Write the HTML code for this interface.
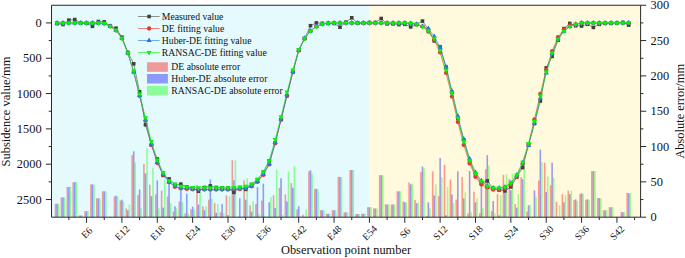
<!DOCTYPE html><html><head><meta charset="utf-8"><title>chart</title><style>html,body{margin:0;padding:0;background:#fff}</style></head><body><svg width="685" height="258" viewBox="0 0 685 258" style="display:block;font-family:'Liberation Serif',serif">
<rect width="685" height="258" fill="#fff"/>
<rect x="51.5" y="5.25" width="317.7" height="211.95" fill="#e5fafd"/>
<rect x="369.2" y="5.25" width="270.90000000000003" height="211.95" fill="#fff9de"/>
<rect x="54.75" y="203.70" width="1.57" height="13.50" fill="rgba(255,0,0,0.39)"/>
<rect x="56.32" y="203.70" width="1.57" height="13.50" fill="rgba(0,0,255,0.39)"/>
<rect x="57.89" y="204.10" width="1.57" height="13.10" fill="rgba(0,255,0,0.39)"/>
<rect x="60.64" y="197.40" width="1.57" height="19.80" fill="rgba(255,0,0,0.39)"/>
<rect x="62.21" y="197.40" width="1.57" height="19.80" fill="rgba(0,0,255,0.39)"/>
<rect x="63.78" y="197.40" width="1.57" height="19.80" fill="rgba(0,255,0,0.39)"/>
<rect x="66.53" y="186.90" width="1.57" height="30.30" fill="rgba(255,0,0,0.39)"/>
<rect x="68.10" y="186.90" width="1.57" height="30.30" fill="rgba(0,0,255,0.39)"/>
<rect x="69.67" y="186.90" width="1.57" height="30.30" fill="rgba(0,255,0,0.39)"/>
<rect x="72.42" y="182.20" width="1.57" height="35.00" fill="rgba(255,0,0,0.39)"/>
<rect x="73.99" y="182.20" width="1.57" height="35.00" fill="rgba(0,0,255,0.39)"/>
<rect x="75.56" y="182.20" width="1.57" height="35.00" fill="rgba(0,255,0,0.39)"/>
<rect x="78.32" y="215.45" width="1.57" height="1.75" fill="rgba(255,0,0,0.39)"/>
<rect x="79.89" y="215.45" width="1.57" height="1.75" fill="rgba(0,0,255,0.39)"/>
<rect x="81.46" y="215.45" width="1.57" height="1.75" fill="rgba(0,255,0,0.39)"/>
<rect x="84.21" y="211.10" width="1.57" height="6.10" fill="rgba(255,0,0,0.39)"/>
<rect x="85.78" y="211.10" width="1.57" height="6.10" fill="rgba(0,0,255,0.39)"/>
<rect x="87.35" y="211.10" width="1.57" height="6.10" fill="rgba(0,255,0,0.39)"/>
<rect x="90.10" y="184.30" width="1.57" height="32.90" fill="rgba(255,0,0,0.39)"/>
<rect x="91.67" y="184.30" width="1.57" height="32.90" fill="rgba(0,0,255,0.39)"/>
<rect x="93.24" y="184.80" width="1.57" height="32.40" fill="rgba(0,255,0,0.39)"/>
<rect x="96.00" y="198.30" width="1.57" height="18.90" fill="rgba(255,0,0,0.39)"/>
<rect x="97.57" y="198.30" width="1.57" height="18.90" fill="rgba(0,0,255,0.39)"/>
<rect x="99.14" y="198.30" width="1.57" height="18.90" fill="rgba(0,255,0,0.39)"/>
<rect x="101.89" y="191.30" width="1.57" height="25.90" fill="rgba(255,0,0,0.39)"/>
<rect x="103.46" y="191.30" width="1.57" height="25.90" fill="rgba(0,0,255,0.39)"/>
<rect x="105.03" y="191.30" width="1.57" height="25.90" fill="rgba(0,255,0,0.39)"/>
<rect x="107.78" y="216.90" width="1.57" height="0.30" fill="rgba(255,0,0,0.39)"/>
<rect x="109.35" y="216.90" width="1.57" height="0.30" fill="rgba(0,0,255,0.39)"/>
<rect x="110.92" y="216.90" width="1.57" height="0.30" fill="rgba(0,255,0,0.39)"/>
<rect x="113.67" y="196.50" width="1.57" height="20.70" fill="rgba(255,0,0,0.39)"/>
<rect x="115.24" y="195.70" width="1.57" height="21.50" fill="rgba(0,0,255,0.39)"/>
<rect x="116.81" y="196.50" width="1.57" height="20.70" fill="rgba(0,255,0,0.39)"/>
<rect x="119.57" y="200.60" width="1.57" height="16.60" fill="rgba(255,0,0,0.39)"/>
<rect x="121.14" y="199.70" width="1.57" height="17.50" fill="rgba(0,0,255,0.39)"/>
<rect x="122.71" y="201.80" width="1.57" height="15.40" fill="rgba(0,255,0,0.39)"/>
<rect x="125.46" y="208.40" width="1.57" height="8.80" fill="rgba(255,0,0,0.39)"/>
<rect x="127.03" y="210.20" width="1.57" height="7.00" fill="rgba(0,0,255,0.39)"/>
<rect x="128.60" y="204.60" width="1.57" height="12.60" fill="rgba(0,255,0,0.39)"/>
<rect x="131.35" y="155.30" width="1.57" height="61.90" fill="rgba(255,0,0,0.39)"/>
<rect x="132.92" y="151.30" width="1.57" height="65.90" fill="rgba(0,0,255,0.39)"/>
<rect x="134.49" y="162.30" width="1.57" height="54.90" fill="rgba(0,255,0,0.39)"/>
<rect x="137.25" y="195.30" width="1.57" height="21.90" fill="rgba(255,0,0,0.39)"/>
<rect x="138.82" y="189.50" width="1.57" height="27.70" fill="rgba(0,0,255,0.39)"/>
<rect x="140.39" y="208.40" width="1.57" height="8.80" fill="rgba(0,255,0,0.39)"/>
<rect x="143.14" y="164.10" width="1.57" height="53.10" fill="rgba(255,0,0,0.39)"/>
<rect x="144.71" y="173.40" width="1.57" height="43.80" fill="rgba(0,0,255,0.39)"/>
<rect x="146.28" y="148.30" width="1.57" height="68.90" fill="rgba(0,255,0,0.39)"/>
<rect x="149.03" y="184.80" width="1.57" height="32.40" fill="rgba(255,0,0,0.39)"/>
<rect x="150.60" y="196.20" width="1.57" height="21.00" fill="rgba(0,0,255,0.39)"/>
<rect x="152.17" y="167.60" width="1.57" height="49.60" fill="rgba(0,255,0,0.39)"/>
<rect x="154.93" y="194.40" width="1.57" height="22.80" fill="rgba(255,0,0,0.39)"/>
<rect x="156.50" y="180.40" width="1.57" height="36.80" fill="rgba(0,0,255,0.39)"/>
<rect x="158.07" y="208.40" width="1.57" height="8.80" fill="rgba(0,255,0,0.39)"/>
<rect x="160.82" y="190.60" width="1.57" height="26.60" fill="rgba(255,0,0,0.39)"/>
<rect x="162.39" y="207.60" width="1.57" height="9.60" fill="rgba(0,0,255,0.39)"/>
<rect x="163.96" y="179.50" width="1.57" height="37.70" fill="rgba(0,255,0,0.39)"/>
<rect x="166.71" y="196.50" width="1.57" height="20.70" fill="rgba(255,0,0,0.39)"/>
<rect x="168.28" y="183.20" width="1.57" height="34.00" fill="rgba(0,0,255,0.39)"/>
<rect x="169.85" y="203.20" width="1.57" height="14.00" fill="rgba(0,255,0,0.39)"/>
<rect x="172.61" y="211.60" width="1.57" height="5.60" fill="rgba(255,0,0,0.39)"/>
<rect x="174.18" y="206.30" width="1.57" height="10.90" fill="rgba(0,0,255,0.39)"/>
<rect x="175.75" y="208.40" width="1.57" height="8.80" fill="rgba(0,255,0,0.39)"/>
<rect x="178.50" y="201.40" width="1.57" height="15.80" fill="rgba(255,0,0,0.39)"/>
<rect x="180.07" y="182.20" width="1.57" height="35.00" fill="rgba(0,0,255,0.39)"/>
<rect x="181.64" y="202.30" width="1.57" height="14.90" fill="rgba(0,255,0,0.39)"/>
<rect x="184.39" y="213.30" width="1.57" height="3.90" fill="rgba(255,0,0,0.39)"/>
<rect x="185.96" y="193.60" width="1.57" height="23.60" fill="rgba(0,0,255,0.39)"/>
<rect x="187.53" y="213.30" width="1.57" height="3.90" fill="rgba(0,255,0,0.39)"/>
<rect x="190.28" y="209.30" width="1.57" height="7.90" fill="rgba(255,0,0,0.39)"/>
<rect x="191.85" y="206.70" width="1.57" height="10.50" fill="rgba(0,0,255,0.39)"/>
<rect x="193.42" y="209.30" width="1.57" height="7.90" fill="rgba(0,255,0,0.39)"/>
<rect x="196.18" y="184.80" width="1.57" height="32.40" fill="rgba(255,0,0,0.39)"/>
<rect x="197.75" y="204.60" width="1.57" height="12.60" fill="rgba(0,0,255,0.39)"/>
<rect x="199.32" y="192.70" width="1.57" height="24.50" fill="rgba(0,255,0,0.39)"/>
<rect x="202.07" y="206.30" width="1.57" height="10.90" fill="rgba(255,0,0,0.39)"/>
<rect x="203.64" y="210.20" width="1.57" height="7.00" fill="rgba(0,0,255,0.39)"/>
<rect x="205.21" y="206.30" width="1.57" height="10.90" fill="rgba(0,255,0,0.39)"/>
<rect x="207.96" y="199.70" width="1.57" height="17.50" fill="rgba(255,0,0,0.39)"/>
<rect x="209.53" y="179.50" width="1.57" height="37.70" fill="rgba(0,0,255,0.39)"/>
<rect x="211.10" y="198.80" width="1.57" height="18.40" fill="rgba(0,255,0,0.39)"/>
<rect x="213.86" y="203.20" width="1.57" height="14.00" fill="rgba(255,0,0,0.39)"/>
<rect x="215.43" y="212.80" width="1.57" height="4.40" fill="rgba(0,0,255,0.39)"/>
<rect x="217.00" y="204.10" width="1.57" height="13.10" fill="rgba(0,255,0,0.39)"/>
<rect x="219.75" y="212.30" width="1.57" height="4.90" fill="rgba(255,0,0,0.39)"/>
<rect x="221.32" y="204.10" width="1.57" height="13.10" fill="rgba(0,0,255,0.39)"/>
<rect x="222.89" y="213.30" width="1.57" height="3.90" fill="rgba(0,255,0,0.39)"/>
<rect x="225.64" y="195.30" width="1.57" height="21.90" fill="rgba(255,0,0,0.39)"/>
<rect x="227.21" y="215.10" width="1.57" height="2.10" fill="rgba(0,0,255,0.39)"/>
<rect x="228.78" y="196.20" width="1.57" height="21.00" fill="rgba(0,255,0,0.39)"/>
<rect x="231.53" y="160.30" width="1.57" height="56.90" fill="rgba(255,0,0,0.39)"/>
<rect x="233.10" y="180.20" width="1.57" height="37.00" fill="rgba(0,0,255,0.39)"/>
<rect x="234.67" y="160.30" width="1.57" height="56.90" fill="rgba(0,255,0,0.39)"/>
<rect x="237.43" y="216.90" width="1.57" height="0.30" fill="rgba(255,0,0,0.39)"/>
<rect x="239.00" y="198.30" width="1.57" height="18.90" fill="rgba(0,0,255,0.39)"/>
<rect x="240.57" y="216.90" width="1.57" height="0.30" fill="rgba(0,255,0,0.39)"/>
<rect x="243.32" y="180.40" width="1.57" height="36.80" fill="rgba(255,0,0,0.39)"/>
<rect x="244.89" y="199.70" width="1.57" height="17.50" fill="rgba(0,0,255,0.39)"/>
<rect x="246.46" y="178.30" width="1.57" height="38.90" fill="rgba(0,255,0,0.39)"/>
<rect x="249.21" y="205.30" width="1.57" height="11.90" fill="rgba(255,0,0,0.39)"/>
<rect x="250.78" y="211.60" width="1.57" height="5.60" fill="rgba(0,0,255,0.39)"/>
<rect x="252.35" y="201.40" width="1.57" height="15.80" fill="rgba(0,255,0,0.39)"/>
<rect x="255.11" y="204.10" width="1.57" height="13.10" fill="rgba(255,0,0,0.39)"/>
<rect x="256.68" y="187.10" width="1.57" height="30.10" fill="rgba(0,0,255,0.39)"/>
<rect x="258.25" y="214.00" width="1.57" height="3.20" fill="rgba(0,255,0,0.39)"/>
<rect x="261.00" y="200.60" width="1.57" height="16.60" fill="rgba(255,0,0,0.39)"/>
<rect x="262.57" y="183.60" width="1.57" height="33.60" fill="rgba(0,0,255,0.39)"/>
<rect x="264.14" y="215.80" width="1.57" height="1.40" fill="rgba(0,255,0,0.39)"/>
<rect x="266.89" y="216.90" width="1.57" height="0.30" fill="rgba(255,0,0,0.39)"/>
<rect x="268.46" y="202.30" width="1.57" height="14.90" fill="rgba(0,0,255,0.39)"/>
<rect x="270.03" y="197.10" width="1.57" height="20.10" fill="rgba(0,255,0,0.39)"/>
<rect x="272.79" y="195.30" width="1.57" height="21.90" fill="rgba(255,0,0,0.39)"/>
<rect x="274.36" y="208.10" width="1.57" height="9.10" fill="rgba(0,0,255,0.39)"/>
<rect x="275.93" y="169.60" width="1.57" height="47.60" fill="rgba(0,255,0,0.39)"/>
<rect x="278.68" y="187.80" width="1.57" height="29.40" fill="rgba(255,0,0,0.39)"/>
<rect x="280.25" y="178.20" width="1.57" height="39.00" fill="rgba(0,0,255,0.39)"/>
<rect x="281.82" y="214.60" width="1.57" height="2.60" fill="rgba(0,255,0,0.39)"/>
<rect x="284.57" y="194.40" width="1.57" height="22.80" fill="rgba(255,0,0,0.39)"/>
<rect x="286.14" y="201.40" width="1.57" height="15.80" fill="rgba(0,0,255,0.39)"/>
<rect x="287.71" y="171.40" width="1.57" height="45.80" fill="rgba(0,255,0,0.39)"/>
<rect x="290.46" y="183.10" width="1.57" height="34.10" fill="rgba(255,0,0,0.39)"/>
<rect x="292.03" y="187.80" width="1.57" height="29.40" fill="rgba(0,0,255,0.39)"/>
<rect x="293.60" y="166.50" width="1.57" height="50.70" fill="rgba(0,255,0,0.39)"/>
<rect x="296.36" y="209.30" width="1.57" height="7.90" fill="rgba(255,0,0,0.39)"/>
<rect x="297.93" y="206.30" width="1.57" height="10.90" fill="rgba(0,0,255,0.39)"/>
<rect x="299.50" y="216.80" width="1.57" height="0.40" fill="rgba(0,255,0,0.39)"/>
<rect x="302.25" y="214.60" width="1.57" height="2.60" fill="rgba(255,0,0,0.39)"/>
<rect x="303.82" y="216.90" width="1.57" height="0.30" fill="rgba(0,0,255,0.39)"/>
<rect x="305.39" y="209.30" width="1.57" height="7.90" fill="rgba(0,255,0,0.39)"/>
<rect x="308.14" y="171.40" width="1.57" height="45.80" fill="rgba(255,0,0,0.39)"/>
<rect x="309.71" y="170.30" width="1.57" height="46.90" fill="rgba(0,0,255,0.39)"/>
<rect x="311.28" y="173.50" width="1.57" height="43.70" fill="rgba(0,255,0,0.39)"/>
<rect x="314.04" y="188.80" width="1.57" height="28.40" fill="rgba(255,0,0,0.39)"/>
<rect x="315.61" y="188.80" width="1.57" height="28.40" fill="rgba(0,0,255,0.39)"/>
<rect x="317.18" y="189.50" width="1.57" height="27.70" fill="rgba(0,255,0,0.39)"/>
<rect x="319.93" y="210.20" width="1.57" height="7.00" fill="rgba(255,0,0,0.39)"/>
<rect x="321.50" y="210.20" width="1.57" height="7.00" fill="rgba(0,0,255,0.39)"/>
<rect x="323.07" y="210.20" width="1.57" height="7.00" fill="rgba(0,255,0,0.39)"/>
<rect x="325.82" y="213.70" width="1.57" height="3.50" fill="rgba(255,0,0,0.39)"/>
<rect x="327.39" y="213.70" width="1.57" height="3.50" fill="rgba(0,0,255,0.39)"/>
<rect x="328.96" y="213.70" width="1.57" height="3.50" fill="rgba(0,255,0,0.39)"/>
<rect x="331.72" y="210.20" width="1.57" height="7.00" fill="rgba(255,0,0,0.39)"/>
<rect x="333.29" y="210.20" width="1.57" height="7.00" fill="rgba(0,0,255,0.39)"/>
<rect x="334.86" y="210.20" width="1.57" height="7.00" fill="rgba(0,255,0,0.39)"/>
<rect x="337.61" y="176.90" width="1.57" height="40.30" fill="rgba(255,0,0,0.39)"/>
<rect x="339.18" y="176.90" width="1.57" height="40.30" fill="rgba(0,0,255,0.39)"/>
<rect x="340.75" y="177.30" width="1.57" height="39.90" fill="rgba(0,255,0,0.39)"/>
<rect x="343.50" y="212.30" width="1.57" height="4.90" fill="rgba(255,0,0,0.39)"/>
<rect x="345.07" y="212.30" width="1.57" height="4.90" fill="rgba(0,0,255,0.39)"/>
<rect x="346.64" y="212.30" width="1.57" height="4.90" fill="rgba(0,255,0,0.39)"/>
<rect x="349.39" y="170.00" width="1.57" height="47.20" fill="rgba(255,0,0,0.39)"/>
<rect x="350.96" y="170.00" width="1.57" height="47.20" fill="rgba(0,0,255,0.39)"/>
<rect x="352.53" y="170.00" width="1.57" height="47.20" fill="rgba(0,255,0,0.39)"/>
<rect x="355.29" y="214.00" width="1.57" height="3.20" fill="rgba(255,0,0,0.39)"/>
<rect x="356.86" y="214.00" width="1.57" height="3.20" fill="rgba(0,0,255,0.39)"/>
<rect x="358.43" y="214.00" width="1.57" height="3.20" fill="rgba(0,255,0,0.39)"/>
<rect x="361.18" y="213.70" width="1.57" height="3.50" fill="rgba(255,0,0,0.39)"/>
<rect x="362.75" y="213.70" width="1.57" height="3.50" fill="rgba(0,0,255,0.39)"/>
<rect x="364.32" y="213.70" width="1.57" height="3.50" fill="rgba(0,255,0,0.39)"/>
<rect x="367.07" y="207.20" width="1.57" height="10.00" fill="rgba(255,0,0,0.39)"/>
<rect x="368.64" y="207.20" width="1.57" height="10.00" fill="rgba(0,0,255,0.39)"/>
<rect x="370.21" y="207.20" width="1.57" height="10.00" fill="rgba(0,255,0,0.39)"/>
<rect x="372.97" y="208.40" width="1.57" height="8.80" fill="rgba(255,0,0,0.39)"/>
<rect x="374.54" y="208.40" width="1.57" height="8.80" fill="rgba(0,0,255,0.39)"/>
<rect x="376.11" y="208.40" width="1.57" height="8.80" fill="rgba(0,255,0,0.39)"/>
<rect x="378.86" y="175.20" width="1.57" height="42.00" fill="rgba(255,0,0,0.39)"/>
<rect x="380.43" y="175.20" width="1.57" height="42.00" fill="rgba(0,0,255,0.39)"/>
<rect x="382.00" y="175.20" width="1.57" height="42.00" fill="rgba(0,255,0,0.39)"/>
<rect x="384.75" y="204.40" width="1.57" height="12.80" fill="rgba(255,0,0,0.39)"/>
<rect x="386.32" y="204.40" width="1.57" height="12.80" fill="rgba(0,0,255,0.39)"/>
<rect x="387.89" y="204.40" width="1.57" height="12.80" fill="rgba(0,255,0,0.39)"/>
<rect x="390.65" y="204.40" width="1.57" height="12.80" fill="rgba(255,0,0,0.39)"/>
<rect x="392.22" y="204.40" width="1.57" height="12.80" fill="rgba(0,0,255,0.39)"/>
<rect x="393.79" y="204.40" width="1.57" height="12.80" fill="rgba(0,255,0,0.39)"/>
<rect x="396.54" y="191.30" width="1.57" height="25.90" fill="rgba(255,0,0,0.39)"/>
<rect x="398.11" y="191.30" width="1.57" height="25.90" fill="rgba(0,0,255,0.39)"/>
<rect x="399.68" y="191.30" width="1.57" height="25.90" fill="rgba(0,255,0,0.39)"/>
<rect x="402.43" y="201.40" width="1.57" height="15.80" fill="rgba(255,0,0,0.39)"/>
<rect x="404.00" y="202.30" width="1.57" height="14.90" fill="rgba(0,0,255,0.39)"/>
<rect x="405.57" y="202.30" width="1.57" height="14.90" fill="rgba(0,255,0,0.39)"/>
<rect x="408.32" y="182.50" width="1.57" height="34.70" fill="rgba(255,0,0,0.39)"/>
<rect x="409.89" y="184.30" width="1.57" height="32.90" fill="rgba(0,0,255,0.39)"/>
<rect x="411.46" y="183.60" width="1.57" height="33.60" fill="rgba(0,255,0,0.39)"/>
<rect x="414.22" y="200.00" width="1.57" height="17.20" fill="rgba(255,0,0,0.39)"/>
<rect x="415.79" y="203.20" width="1.57" height="14.00" fill="rgba(0,0,255,0.39)"/>
<rect x="417.36" y="202.30" width="1.57" height="14.90" fill="rgba(0,255,0,0.39)"/>
<rect x="420.11" y="172.10" width="1.57" height="45.10" fill="rgba(255,0,0,0.39)"/>
<rect x="421.68" y="166.50" width="1.57" height="50.70" fill="rgba(0,0,255,0.39)"/>
<rect x="423.25" y="168.20" width="1.57" height="49.00" fill="rgba(0,255,0,0.39)"/>
<rect x="426.00" y="215.80" width="1.57" height="1.40" fill="rgba(255,0,0,0.39)"/>
<rect x="427.57" y="202.30" width="1.57" height="14.90" fill="rgba(0,0,255,0.39)"/>
<rect x="429.14" y="208.10" width="1.57" height="9.10" fill="rgba(0,255,0,0.39)"/>
<rect x="431.90" y="171.40" width="1.57" height="45.80" fill="rgba(255,0,0,0.39)"/>
<rect x="433.47" y="195.30" width="1.57" height="21.90" fill="rgba(0,0,255,0.39)"/>
<rect x="435.04" y="184.30" width="1.57" height="32.90" fill="rgba(0,255,0,0.39)"/>
<rect x="437.79" y="196.20" width="1.57" height="21.00" fill="rgba(255,0,0,0.39)"/>
<rect x="439.36" y="158.00" width="1.57" height="59.20" fill="rgba(0,0,255,0.39)"/>
<rect x="440.93" y="177.30" width="1.57" height="39.90" fill="rgba(0,255,0,0.39)"/>
<rect x="443.68" y="164.70" width="1.57" height="52.50" fill="rgba(255,0,0,0.39)"/>
<rect x="445.25" y="215.20" width="1.57" height="2.00" fill="rgba(0,0,255,0.39)"/>
<rect x="446.82" y="187.10" width="1.57" height="30.10" fill="rgba(0,255,0,0.39)"/>
<rect x="449.58" y="179.60" width="1.57" height="37.60" fill="rgba(255,0,0,0.39)"/>
<rect x="451.15" y="194.40" width="1.57" height="22.80" fill="rgba(0,0,255,0.39)"/>
<rect x="452.72" y="203.20" width="1.57" height="14.00" fill="rgba(0,255,0,0.39)"/>
<rect x="455.47" y="199.70" width="1.57" height="17.50" fill="rgba(255,0,0,0.39)"/>
<rect x="457.04" y="171.30" width="1.57" height="45.90" fill="rgba(0,0,255,0.39)"/>
<rect x="458.61" y="215.80" width="1.57" height="1.40" fill="rgba(0,255,0,0.39)"/>
<rect x="461.36" y="177.00" width="1.57" height="40.20" fill="rgba(255,0,0,0.39)"/>
<rect x="462.93" y="198.30" width="1.57" height="18.90" fill="rgba(0,0,255,0.39)"/>
<rect x="464.50" y="192.30" width="1.57" height="24.90" fill="rgba(0,255,0,0.39)"/>
<rect x="467.25" y="213.30" width="1.57" height="3.90" fill="rgba(255,0,0,0.39)"/>
<rect x="468.82" y="171.00" width="1.57" height="46.20" fill="rgba(0,0,255,0.39)"/>
<rect x="470.39" y="212.30" width="1.57" height="4.90" fill="rgba(0,255,0,0.39)"/>
<rect x="473.15" y="191.80" width="1.57" height="25.40" fill="rgba(255,0,0,0.39)"/>
<rect x="474.72" y="202.30" width="1.57" height="14.90" fill="rgba(0,0,255,0.39)"/>
<rect x="476.29" y="198.30" width="1.57" height="18.90" fill="rgba(0,255,0,0.39)"/>
<rect x="479.04" y="213.30" width="1.57" height="3.90" fill="rgba(255,0,0,0.39)"/>
<rect x="480.61" y="182.20" width="1.57" height="35.00" fill="rgba(0,0,255,0.39)"/>
<rect x="482.18" y="208.40" width="1.57" height="8.80" fill="rgba(0,255,0,0.39)"/>
<rect x="484.93" y="169.20" width="1.57" height="48.00" fill="rgba(255,0,0,0.39)"/>
<rect x="486.50" y="155.20" width="1.57" height="62.00" fill="rgba(0,0,255,0.39)"/>
<rect x="488.07" y="165.70" width="1.57" height="51.50" fill="rgba(0,255,0,0.39)"/>
<rect x="490.83" y="211.10" width="1.57" height="6.10" fill="rgba(255,0,0,0.39)"/>
<rect x="492.40" y="201.10" width="1.57" height="16.10" fill="rgba(0,0,255,0.39)"/>
<rect x="493.97" y="213.30" width="1.57" height="3.90" fill="rgba(0,255,0,0.39)"/>
<rect x="496.72" y="194.10" width="1.57" height="23.10" fill="rgba(255,0,0,0.39)"/>
<rect x="498.29" y="215.40" width="1.57" height="1.80" fill="rgba(0,0,255,0.39)"/>
<rect x="499.86" y="195.30" width="1.57" height="21.90" fill="rgba(0,255,0,0.39)"/>
<rect x="502.61" y="174.80" width="1.57" height="42.40" fill="rgba(255,0,0,0.39)"/>
<rect x="504.18" y="191.20" width="1.57" height="26.00" fill="rgba(0,0,255,0.39)"/>
<rect x="505.75" y="174.10" width="1.57" height="43.10" fill="rgba(0,255,0,0.39)"/>
<rect x="508.51" y="178.80" width="1.57" height="38.40" fill="rgba(255,0,0,0.39)"/>
<rect x="510.08" y="190.20" width="1.57" height="27.00" fill="rgba(0,0,255,0.39)"/>
<rect x="511.65" y="173.60" width="1.57" height="43.60" fill="rgba(0,255,0,0.39)"/>
<rect x="514.40" y="204.10" width="1.57" height="13.10" fill="rgba(255,0,0,0.39)"/>
<rect x="515.97" y="207.60" width="1.57" height="9.60" fill="rgba(0,0,255,0.39)"/>
<rect x="517.54" y="194.10" width="1.57" height="23.10" fill="rgba(0,255,0,0.39)"/>
<rect x="520.29" y="177.00" width="1.57" height="40.20" fill="rgba(255,0,0,0.39)"/>
<rect x="521.86" y="179.20" width="1.57" height="38.00" fill="rgba(0,0,255,0.39)"/>
<rect x="523.43" y="162.20" width="1.57" height="55.00" fill="rgba(0,255,0,0.39)"/>
<rect x="526.18" y="211.60" width="1.57" height="5.60" fill="rgba(255,0,0,0.39)"/>
<rect x="527.75" y="205.30" width="1.57" height="11.90" fill="rgba(0,0,255,0.39)"/>
<rect x="529.32" y="204.60" width="1.57" height="12.60" fill="rgba(0,255,0,0.39)"/>
<rect x="532.08" y="216.90" width="1.57" height="0.30" fill="rgba(255,0,0,0.39)"/>
<rect x="533.65" y="190.40" width="1.57" height="26.80" fill="rgba(0,0,255,0.39)"/>
<rect x="535.22" y="196.70" width="1.57" height="20.50" fill="rgba(0,255,0,0.39)"/>
<rect x="537.97" y="180.50" width="1.57" height="36.70" fill="rgba(255,0,0,0.39)"/>
<rect x="539.54" y="149.60" width="1.57" height="67.60" fill="rgba(0,0,255,0.39)"/>
<rect x="541.11" y="162.20" width="1.57" height="55.00" fill="rgba(0,255,0,0.39)"/>
<rect x="543.86" y="162.80" width="1.57" height="54.40" fill="rgba(255,0,0,0.39)"/>
<rect x="545.43" y="191.90" width="1.57" height="25.30" fill="rgba(0,0,255,0.39)"/>
<rect x="547.00" y="176.60" width="1.57" height="40.60" fill="rgba(0,255,0,0.39)"/>
<rect x="549.76" y="185.30" width="1.57" height="31.90" fill="rgba(255,0,0,0.39)"/>
<rect x="551.33" y="162.60" width="1.57" height="54.60" fill="rgba(0,0,255,0.39)"/>
<rect x="552.90" y="177.50" width="1.57" height="39.70" fill="rgba(0,255,0,0.39)"/>
<rect x="555.65" y="201.80" width="1.57" height="15.40" fill="rgba(255,0,0,0.39)"/>
<rect x="557.22" y="216.80" width="1.57" height="0.40" fill="rgba(0,0,255,0.39)"/>
<rect x="558.79" y="205.30" width="1.57" height="11.90" fill="rgba(0,255,0,0.39)"/>
<rect x="561.54" y="194.10" width="1.57" height="23.10" fill="rgba(255,0,0,0.39)"/>
<rect x="563.11" y="202.30" width="1.57" height="14.90" fill="rgba(0,0,255,0.39)"/>
<rect x="564.68" y="195.30" width="1.57" height="21.90" fill="rgba(0,255,0,0.39)"/>
<rect x="567.44" y="190.60" width="1.57" height="26.60" fill="rgba(255,0,0,0.39)"/>
<rect x="569.01" y="194.10" width="1.57" height="23.10" fill="rgba(0,0,255,0.39)"/>
<rect x="570.58" y="190.60" width="1.57" height="26.60" fill="rgba(0,255,0,0.39)"/>
<rect x="573.33" y="200.00" width="1.57" height="17.20" fill="rgba(255,0,0,0.39)"/>
<rect x="574.90" y="199.30" width="1.57" height="17.90" fill="rgba(0,0,255,0.39)"/>
<rect x="576.47" y="201.10" width="1.57" height="16.10" fill="rgba(0,255,0,0.39)"/>
<rect x="579.22" y="194.10" width="1.57" height="23.10" fill="rgba(255,0,0,0.39)"/>
<rect x="580.79" y="193.20" width="1.57" height="24.00" fill="rgba(0,0,255,0.39)"/>
<rect x="582.36" y="194.10" width="1.57" height="23.10" fill="rgba(0,255,0,0.39)"/>
<rect x="585.12" y="199.70" width="1.57" height="17.50" fill="rgba(255,0,0,0.39)"/>
<rect x="586.69" y="199.30" width="1.57" height="17.90" fill="rgba(0,0,255,0.39)"/>
<rect x="588.25" y="199.70" width="1.57" height="17.50" fill="rgba(0,255,0,0.39)"/>
<rect x="591.01" y="171.10" width="1.57" height="46.10" fill="rgba(255,0,0,0.39)"/>
<rect x="592.58" y="171.10" width="1.57" height="46.10" fill="rgba(0,0,255,0.39)"/>
<rect x="594.15" y="171.10" width="1.57" height="46.10" fill="rgba(0,255,0,0.39)"/>
<rect x="596.90" y="198.10" width="1.57" height="19.10" fill="rgba(255,0,0,0.39)"/>
<rect x="598.47" y="198.10" width="1.57" height="19.10" fill="rgba(0,0,255,0.39)"/>
<rect x="600.04" y="198.10" width="1.57" height="19.10" fill="rgba(0,255,0,0.39)"/>
<rect x="602.79" y="210.30" width="1.57" height="6.90" fill="rgba(255,0,0,0.39)"/>
<rect x="604.36" y="210.30" width="1.57" height="6.90" fill="rgba(0,0,255,0.39)"/>
<rect x="605.93" y="210.30" width="1.57" height="6.90" fill="rgba(0,255,0,0.39)"/>
<rect x="608.69" y="207.20" width="1.57" height="10.00" fill="rgba(255,0,0,0.39)"/>
<rect x="610.26" y="207.20" width="1.57" height="10.00" fill="rgba(0,0,255,0.39)"/>
<rect x="611.83" y="207.20" width="1.57" height="10.00" fill="rgba(0,255,0,0.39)"/>
<rect x="614.58" y="216.90" width="1.57" height="0.30" fill="rgba(255,0,0,0.39)"/>
<rect x="616.15" y="216.90" width="1.57" height="0.30" fill="rgba(0,0,255,0.39)"/>
<rect x="617.72" y="216.90" width="1.57" height="0.30" fill="rgba(0,255,0,0.39)"/>
<rect x="620.47" y="212.10" width="1.57" height="5.10" fill="rgba(255,0,0,0.39)"/>
<rect x="622.04" y="212.10" width="1.57" height="5.10" fill="rgba(0,0,255,0.39)"/>
<rect x="623.61" y="212.10" width="1.57" height="5.10" fill="rgba(0,255,0,0.39)"/>
<rect x="626.37" y="193.10" width="1.57" height="24.10" fill="rgba(255,0,0,0.39)"/>
<rect x="627.94" y="193.10" width="1.57" height="24.10" fill="rgba(0,0,255,0.39)"/>
<rect x="629.51" y="193.10" width="1.57" height="24.10" fill="rgba(0,255,0,0.39)"/>
<polyline points="57.10,23.60 62.99,24.50 68.89,20.10 74.78,19.60 80.67,22.80 86.56,23.30 92.46,26.30 98.35,21.50 104.24,21.90 110.14,25.90 116.03,28.20 121.92,37.10 127.82,52.40 133.71,63.80 139.60,91.80 145.50,124.80 151.39,144.90 157.28,159.00 163.17,175.40 169.07,178.90 174.96,184.50 180.85,184.20 186.75,187.00 192.64,188.00 198.53,191.20 204.42,187.50 210.32,185.90 216.21,187.50 222.10,188.00 228.00,188.00 233.89,192.40 239.78,187.50 245.68,189.40 251.57,184.50 257.46,179.60 263.36,172.20 269.25,161.00 275.14,143.00 281.03,119.60 286.93,95.90 292.82,72.10 298.71,50.00 304.61,38.60 310.50,25.70 316.39,22.90 322.29,23.40 328.18,23.40 334.07,23.40 339.96,27.20 345.86,22.20 351.75,17.80 357.64,23.00 363.54,23.00 369.43,22.50 375.32,22.50 381.22,18.50 387.11,23.90 393.00,23.90 398.89,24.60 404.79,24.30 410.68,26.90 416.57,24.60 422.47,21.10 428.36,29.50 434.25,40.90 440.14,47.00 446.04,67.00 451.93,92.50 457.82,118.50 463.72,140.00 469.61,161.00 475.50,175.00 481.40,183.00 487.29,180.90 493.18,188.40 499.07,190.00 504.97,190.90 510.86,186.90 516.75,176.90 522.65,167.60 528.54,144.80 534.43,123.50 540.33,101.00 546.22,67.90 552.11,56.40 558.00,40.20 563.90,28.60 569.79,23.40 575.68,25.70 581.58,26.00 587.47,24.30 593.36,27.40 599.26,24.30 605.15,23.40 611.04,23.40 616.94,22.90 622.83,22.40 628.72,25.10" fill="none" stroke="#484848" stroke-width="0.6" stroke-linejoin="round"/>
<rect x="55.30" y="21.80" width="3.6" height="3.6" fill="#404040"/>
<rect x="61.19" y="22.70" width="3.6" height="3.6" fill="#404040"/>
<rect x="67.09" y="18.30" width="3.6" height="3.6" fill="#404040"/>
<rect x="72.98" y="17.80" width="3.6" height="3.6" fill="#404040"/>
<rect x="78.87" y="21.00" width="3.6" height="3.6" fill="#404040"/>
<rect x="84.77" y="21.50" width="3.6" height="3.6" fill="#404040"/>
<rect x="90.66" y="24.50" width="3.6" height="3.6" fill="#404040"/>
<rect x="96.55" y="19.70" width="3.6" height="3.6" fill="#404040"/>
<rect x="102.44" y="20.10" width="3.6" height="3.6" fill="#404040"/>
<rect x="108.34" y="24.10" width="3.6" height="3.6" fill="#404040"/>
<rect x="114.23" y="26.40" width="3.6" height="3.6" fill="#404040"/>
<rect x="120.12" y="35.30" width="3.6" height="3.6" fill="#404040"/>
<rect x="126.02" y="50.60" width="3.6" height="3.6" fill="#404040"/>
<rect x="131.91" y="62.00" width="3.6" height="3.6" fill="#404040"/>
<rect x="137.80" y="90.00" width="3.6" height="3.6" fill="#404040"/>
<rect x="143.69" y="123.00" width="3.6" height="3.6" fill="#404040"/>
<rect x="149.59" y="143.10" width="3.6" height="3.6" fill="#404040"/>
<rect x="155.48" y="157.20" width="3.6" height="3.6" fill="#404040"/>
<rect x="161.37" y="173.60" width="3.6" height="3.6" fill="#404040"/>
<rect x="167.27" y="177.10" width="3.6" height="3.6" fill="#404040"/>
<rect x="173.16" y="182.70" width="3.6" height="3.6" fill="#404040"/>
<rect x="179.05" y="182.40" width="3.6" height="3.6" fill="#404040"/>
<rect x="184.95" y="185.20" width="3.6" height="3.6" fill="#404040"/>
<rect x="190.84" y="186.20" width="3.6" height="3.6" fill="#404040"/>
<rect x="196.73" y="189.40" width="3.6" height="3.6" fill="#404040"/>
<rect x="202.62" y="185.70" width="3.6" height="3.6" fill="#404040"/>
<rect x="208.52" y="184.10" width="3.6" height="3.6" fill="#404040"/>
<rect x="214.41" y="185.70" width="3.6" height="3.6" fill="#404040"/>
<rect x="220.30" y="186.20" width="3.6" height="3.6" fill="#404040"/>
<rect x="226.20" y="186.20" width="3.6" height="3.6" fill="#404040"/>
<rect x="232.09" y="190.60" width="3.6" height="3.6" fill="#404040"/>
<rect x="237.98" y="185.70" width="3.6" height="3.6" fill="#404040"/>
<rect x="243.88" y="187.60" width="3.6" height="3.6" fill="#404040"/>
<rect x="249.77" y="182.70" width="3.6" height="3.6" fill="#404040"/>
<rect x="255.66" y="177.80" width="3.6" height="3.6" fill="#404040"/>
<rect x="261.56" y="170.40" width="3.6" height="3.6" fill="#404040"/>
<rect x="267.45" y="159.20" width="3.6" height="3.6" fill="#404040"/>
<rect x="273.34" y="141.20" width="3.6" height="3.6" fill="#404040"/>
<rect x="279.23" y="117.80" width="3.6" height="3.6" fill="#404040"/>
<rect x="285.13" y="94.10" width="3.6" height="3.6" fill="#404040"/>
<rect x="291.02" y="70.30" width="3.6" height="3.6" fill="#404040"/>
<rect x="296.91" y="48.20" width="3.6" height="3.6" fill="#404040"/>
<rect x="302.81" y="36.80" width="3.6" height="3.6" fill="#404040"/>
<rect x="308.70" y="23.90" width="3.6" height="3.6" fill="#404040"/>
<rect x="314.59" y="21.10" width="3.6" height="3.6" fill="#404040"/>
<rect x="320.49" y="21.60" width="3.6" height="3.6" fill="#404040"/>
<rect x="326.38" y="21.60" width="3.6" height="3.6" fill="#404040"/>
<rect x="332.27" y="21.60" width="3.6" height="3.6" fill="#404040"/>
<rect x="338.16" y="25.40" width="3.6" height="3.6" fill="#404040"/>
<rect x="344.06" y="20.40" width="3.6" height="3.6" fill="#404040"/>
<rect x="349.95" y="16.00" width="3.6" height="3.6" fill="#404040"/>
<rect x="355.84" y="21.20" width="3.6" height="3.6" fill="#404040"/>
<rect x="361.74" y="21.20" width="3.6" height="3.6" fill="#404040"/>
<rect x="367.63" y="20.70" width="3.6" height="3.6" fill="#404040"/>
<rect x="373.52" y="20.70" width="3.6" height="3.6" fill="#404040"/>
<rect x="379.42" y="16.70" width="3.6" height="3.6" fill="#404040"/>
<rect x="385.31" y="22.10" width="3.6" height="3.6" fill="#404040"/>
<rect x="391.20" y="22.10" width="3.6" height="3.6" fill="#404040"/>
<rect x="397.09" y="22.80" width="3.6" height="3.6" fill="#404040"/>
<rect x="402.99" y="22.50" width="3.6" height="3.6" fill="#404040"/>
<rect x="408.88" y="25.10" width="3.6" height="3.6" fill="#404040"/>
<rect x="414.77" y="22.80" width="3.6" height="3.6" fill="#404040"/>
<rect x="420.67" y="19.30" width="3.6" height="3.6" fill="#404040"/>
<rect x="426.56" y="27.70" width="3.6" height="3.6" fill="#404040"/>
<rect x="432.45" y="39.10" width="3.6" height="3.6" fill="#404040"/>
<rect x="438.34" y="45.20" width="3.6" height="3.6" fill="#404040"/>
<rect x="444.24" y="65.20" width="3.6" height="3.6" fill="#404040"/>
<rect x="450.13" y="90.70" width="3.6" height="3.6" fill="#404040"/>
<rect x="456.02" y="116.70" width="3.6" height="3.6" fill="#404040"/>
<rect x="461.92" y="138.20" width="3.6" height="3.6" fill="#404040"/>
<rect x="467.81" y="159.20" width="3.6" height="3.6" fill="#404040"/>
<rect x="473.70" y="173.20" width="3.6" height="3.6" fill="#404040"/>
<rect x="479.60" y="181.20" width="3.6" height="3.6" fill="#404040"/>
<rect x="485.49" y="179.10" width="3.6" height="3.6" fill="#404040"/>
<rect x="491.38" y="186.60" width="3.6" height="3.6" fill="#404040"/>
<rect x="497.27" y="188.20" width="3.6" height="3.6" fill="#404040"/>
<rect x="503.17" y="189.10" width="3.6" height="3.6" fill="#404040"/>
<rect x="509.06" y="185.10" width="3.6" height="3.6" fill="#404040"/>
<rect x="514.95" y="175.10" width="3.6" height="3.6" fill="#404040"/>
<rect x="520.85" y="165.80" width="3.6" height="3.6" fill="#404040"/>
<rect x="526.74" y="143.00" width="3.6" height="3.6" fill="#404040"/>
<rect x="532.63" y="121.70" width="3.6" height="3.6" fill="#404040"/>
<rect x="538.53" y="99.20" width="3.6" height="3.6" fill="#404040"/>
<rect x="544.42" y="66.10" width="3.6" height="3.6" fill="#404040"/>
<rect x="550.31" y="54.60" width="3.6" height="3.6" fill="#404040"/>
<rect x="556.21" y="38.40" width="3.6" height="3.6" fill="#404040"/>
<rect x="562.10" y="26.80" width="3.6" height="3.6" fill="#404040"/>
<rect x="567.99" y="21.60" width="3.6" height="3.6" fill="#404040"/>
<rect x="573.88" y="23.90" width="3.6" height="3.6" fill="#404040"/>
<rect x="579.78" y="24.20" width="3.6" height="3.6" fill="#404040"/>
<rect x="585.67" y="22.50" width="3.6" height="3.6" fill="#404040"/>
<rect x="591.56" y="25.60" width="3.6" height="3.6" fill="#404040"/>
<rect x="597.46" y="22.50" width="3.6" height="3.6" fill="#404040"/>
<rect x="603.35" y="21.60" width="3.6" height="3.6" fill="#404040"/>
<rect x="609.24" y="21.60" width="3.6" height="3.6" fill="#404040"/>
<rect x="615.14" y="21.10" width="3.6" height="3.6" fill="#404040"/>
<rect x="621.03" y="20.60" width="3.6" height="3.6" fill="#404040"/>
<rect x="626.92" y="23.30" width="3.6" height="3.6" fill="#404040"/>
<polyline points="57.10,22.90 62.99,22.90 68.89,22.90 74.78,22.90 80.67,22.90 86.56,22.90 92.46,22.90 98.35,22.90 104.24,23.60 110.14,26.30 116.03,30.30 121.92,38.20 127.82,53.00 133.71,72.10 139.60,95.90 145.50,120.70 151.39,144.90 157.28,163.00 163.17,174.60 169.07,182.20 174.96,186.80 180.85,188.30 186.75,188.90 192.64,189.30 198.53,189.50 204.42,189.50 210.32,189.50 216.21,189.50 222.10,189.50 228.00,189.50 233.89,189.30 239.78,189.10 245.68,188.30 251.57,186.30 257.46,181.90 263.36,174.90 269.25,164.40 275.14,143.30 281.03,119.60 286.93,95.40 292.82,72.00 298.71,50.70 304.61,38.30 310.50,30.90 316.39,26.40 322.29,23.90 328.18,23.20 334.07,23.00 339.96,23.00 345.86,23.00 351.75,23.00 357.64,23.00 363.54,23.00 369.43,23.00 375.32,23.00 381.22,23.00 387.11,23.00 393.00,23.00 398.89,23.00 404.79,23.00 410.68,23.40 416.57,24.30 422.47,26.40 428.36,31.70 434.25,40.00 440.14,52.40 446.04,72.90 451.93,96.60 457.82,122.00 463.72,144.90 469.61,163.40 475.50,176.90 481.40,184.40 487.29,187.40 493.18,189.70 499.07,189.70 504.97,188.60 510.86,184.80 516.75,176.90 522.65,164.10 528.54,144.10 534.43,119.50 540.33,94.00 546.22,70.00 552.11,51.10 558.00,37.20 563.90,29.50 569.79,25.40 575.68,24.30 581.58,23.00 587.47,22.90 593.36,22.90 599.26,22.90 605.15,22.90 611.04,22.90 616.94,22.90 622.83,22.90 628.72,22.80" fill="none" stroke="#f03030" stroke-width="0.6" stroke-linejoin="round"/>
<circle cx="57.10" cy="22.90" r="2.15" fill="#f03030"/>
<circle cx="62.99" cy="22.90" r="2.15" fill="#f03030"/>
<circle cx="68.89" cy="22.90" r="2.15" fill="#f03030"/>
<circle cx="74.78" cy="22.90" r="2.15" fill="#f03030"/>
<circle cx="80.67" cy="22.90" r="2.15" fill="#f03030"/>
<circle cx="86.56" cy="22.90" r="2.15" fill="#f03030"/>
<circle cx="92.46" cy="22.90" r="2.15" fill="#f03030"/>
<circle cx="98.35" cy="22.90" r="2.15" fill="#f03030"/>
<circle cx="104.24" cy="23.60" r="2.15" fill="#f03030"/>
<circle cx="110.14" cy="26.30" r="2.15" fill="#f03030"/>
<circle cx="116.03" cy="30.30" r="2.15" fill="#f03030"/>
<circle cx="121.92" cy="38.20" r="2.15" fill="#f03030"/>
<circle cx="127.82" cy="53.00" r="2.15" fill="#f03030"/>
<circle cx="133.71" cy="72.10" r="2.15" fill="#f03030"/>
<circle cx="139.60" cy="95.90" r="2.15" fill="#f03030"/>
<circle cx="145.50" cy="120.70" r="2.15" fill="#f03030"/>
<circle cx="151.39" cy="144.90" r="2.15" fill="#f03030"/>
<circle cx="157.28" cy="163.00" r="2.15" fill="#f03030"/>
<circle cx="163.17" cy="174.60" r="2.15" fill="#f03030"/>
<circle cx="169.07" cy="182.20" r="2.15" fill="#f03030"/>
<circle cx="174.96" cy="186.80" r="2.15" fill="#f03030"/>
<circle cx="180.85" cy="188.30" r="2.15" fill="#f03030"/>
<circle cx="186.75" cy="188.90" r="2.15" fill="#f03030"/>
<circle cx="192.64" cy="189.30" r="2.15" fill="#f03030"/>
<circle cx="198.53" cy="189.50" r="2.15" fill="#f03030"/>
<circle cx="204.42" cy="189.50" r="2.15" fill="#f03030"/>
<circle cx="210.32" cy="189.50" r="2.15" fill="#f03030"/>
<circle cx="216.21" cy="189.50" r="2.15" fill="#f03030"/>
<circle cx="222.10" cy="189.50" r="2.15" fill="#f03030"/>
<circle cx="228.00" cy="189.50" r="2.15" fill="#f03030"/>
<circle cx="233.89" cy="189.30" r="2.15" fill="#f03030"/>
<circle cx="239.78" cy="189.10" r="2.15" fill="#f03030"/>
<circle cx="245.68" cy="188.30" r="2.15" fill="#f03030"/>
<circle cx="251.57" cy="186.30" r="2.15" fill="#f03030"/>
<circle cx="257.46" cy="181.90" r="2.15" fill="#f03030"/>
<circle cx="263.36" cy="174.90" r="2.15" fill="#f03030"/>
<circle cx="269.25" cy="164.40" r="2.15" fill="#f03030"/>
<circle cx="275.14" cy="143.30" r="2.15" fill="#f03030"/>
<circle cx="281.03" cy="119.60" r="2.15" fill="#f03030"/>
<circle cx="286.93" cy="95.40" r="2.15" fill="#f03030"/>
<circle cx="292.82" cy="72.00" r="2.15" fill="#f03030"/>
<circle cx="298.71" cy="50.70" r="2.15" fill="#f03030"/>
<circle cx="304.61" cy="38.30" r="2.15" fill="#f03030"/>
<circle cx="310.50" cy="30.90" r="2.15" fill="#f03030"/>
<circle cx="316.39" cy="26.40" r="2.15" fill="#f03030"/>
<circle cx="322.29" cy="23.90" r="2.15" fill="#f03030"/>
<circle cx="328.18" cy="23.20" r="2.15" fill="#f03030"/>
<circle cx="334.07" cy="23.00" r="2.15" fill="#f03030"/>
<circle cx="339.96" cy="23.00" r="2.15" fill="#f03030"/>
<circle cx="345.86" cy="23.00" r="2.15" fill="#f03030"/>
<circle cx="351.75" cy="23.00" r="2.15" fill="#f03030"/>
<circle cx="357.64" cy="23.00" r="2.15" fill="#f03030"/>
<circle cx="363.54" cy="23.00" r="2.15" fill="#f03030"/>
<circle cx="369.43" cy="23.00" r="2.15" fill="#f03030"/>
<circle cx="375.32" cy="23.00" r="2.15" fill="#f03030"/>
<circle cx="381.22" cy="23.00" r="2.15" fill="#f03030"/>
<circle cx="387.11" cy="23.00" r="2.15" fill="#f03030"/>
<circle cx="393.00" cy="23.00" r="2.15" fill="#f03030"/>
<circle cx="398.89" cy="23.00" r="2.15" fill="#f03030"/>
<circle cx="404.79" cy="23.00" r="2.15" fill="#f03030"/>
<circle cx="410.68" cy="23.40" r="2.15" fill="#f03030"/>
<circle cx="416.57" cy="24.30" r="2.15" fill="#f03030"/>
<circle cx="422.47" cy="26.40" r="2.15" fill="#f03030"/>
<circle cx="428.36" cy="31.70" r="2.15" fill="#f03030"/>
<circle cx="434.25" cy="40.00" r="2.15" fill="#f03030"/>
<circle cx="440.14" cy="52.40" r="2.15" fill="#f03030"/>
<circle cx="446.04" cy="72.90" r="2.15" fill="#f03030"/>
<circle cx="451.93" cy="96.60" r="2.15" fill="#f03030"/>
<circle cx="457.82" cy="122.00" r="2.15" fill="#f03030"/>
<circle cx="463.72" cy="144.90" r="2.15" fill="#f03030"/>
<circle cx="469.61" cy="163.40" r="2.15" fill="#f03030"/>
<circle cx="475.50" cy="176.90" r="2.15" fill="#f03030"/>
<circle cx="481.40" cy="184.40" r="2.15" fill="#f03030"/>
<circle cx="487.29" cy="187.40" r="2.15" fill="#f03030"/>
<circle cx="493.18" cy="189.70" r="2.15" fill="#f03030"/>
<circle cx="499.07" cy="189.70" r="2.15" fill="#f03030"/>
<circle cx="504.97" cy="188.60" r="2.15" fill="#f03030"/>
<circle cx="510.86" cy="184.80" r="2.15" fill="#f03030"/>
<circle cx="516.75" cy="176.90" r="2.15" fill="#f03030"/>
<circle cx="522.65" cy="164.10" r="2.15" fill="#f03030"/>
<circle cx="528.54" cy="144.10" r="2.15" fill="#f03030"/>
<circle cx="534.43" cy="119.50" r="2.15" fill="#f03030"/>
<circle cx="540.33" cy="94.00" r="2.15" fill="#f03030"/>
<circle cx="546.22" cy="70.00" r="2.15" fill="#f03030"/>
<circle cx="552.11" cy="51.10" r="2.15" fill="#f03030"/>
<circle cx="558.00" cy="37.20" r="2.15" fill="#f03030"/>
<circle cx="563.90" cy="29.50" r="2.15" fill="#f03030"/>
<circle cx="569.79" cy="25.40" r="2.15" fill="#f03030"/>
<circle cx="575.68" cy="24.30" r="2.15" fill="#f03030"/>
<circle cx="581.58" cy="23.00" r="2.15" fill="#f03030"/>
<circle cx="587.47" cy="22.90" r="2.15" fill="#f03030"/>
<circle cx="593.36" cy="22.90" r="2.15" fill="#f03030"/>
<circle cx="599.26" cy="22.90" r="2.15" fill="#f03030"/>
<circle cx="605.15" cy="22.90" r="2.15" fill="#f03030"/>
<circle cx="611.04" cy="22.90" r="2.15" fill="#f03030"/>
<circle cx="616.94" cy="22.90" r="2.15" fill="#f03030"/>
<circle cx="622.83" cy="22.90" r="2.15" fill="#f03030"/>
<circle cx="628.72" cy="22.80" r="2.15" fill="#f03030"/>
<polyline points="57.10,22.90 62.99,22.90 68.89,22.90 74.78,22.90 80.67,22.90 86.56,22.90 92.46,22.90 98.35,22.90 104.24,23.60 110.14,26.30 116.03,30.30 121.92,38.20 127.82,53.00 133.71,71.90 139.60,95.50 145.50,120.12 151.39,144.20 157.28,162.40 163.17,174.20 169.07,181.90 174.96,186.28 180.85,187.90 186.75,188.54 192.64,188.94 198.53,189.14 204.42,189.14 210.32,189.14 216.21,189.14 222.10,189.14 228.00,189.14 233.89,188.94 239.78,188.74 245.68,187.90 251.57,185.88 257.46,181.44 263.36,174.30 269.25,163.70 275.14,142.52 281.03,119.02 286.93,94.70 292.82,71.60 298.71,50.50 304.61,38.30 310.50,30.90 316.39,26.40 322.29,23.90 328.18,23.20 334.07,23.00 339.96,23.00 345.86,23.00 351.75,23.00 357.64,23.00 363.54,23.00 369.43,23.00 375.32,23.00 381.22,23.00 387.11,23.00 393.00,23.00 398.89,23.00 404.79,23.00 410.68,23.40 416.57,24.30 422.47,26.40 428.36,28.60 434.25,36.50 440.14,47.20 446.04,67.10 451.93,90.90 457.82,115.90 463.72,138.90 469.61,158.80 475.50,172.40 481.40,180.80 487.29,186.20 493.18,187.90 499.07,187.90 504.97,186.90 510.86,183.00 516.75,175.10 522.65,162.70 528.54,145.40 534.43,123.00 540.33,97.90 546.22,73.10 552.11,53.50 558.00,39.00 563.90,31.30 569.79,26.40 575.68,24.30 581.58,23.00 587.47,22.90 593.36,22.90 599.26,22.90 605.15,22.90 611.04,22.90 616.94,22.90 622.83,22.90 628.72,22.80" fill="none" stroke="#2a72e0" stroke-width="0.6" stroke-linejoin="round"/>
<path d="M54.55,24.40L59.65,24.40L57.10,19.90Z" fill="#2a72e0"/>
<path d="M60.44,24.40L65.54,24.40L62.99,19.90Z" fill="#2a72e0"/>
<path d="M66.34,24.40L71.44,24.40L68.89,19.90Z" fill="#2a72e0"/>
<path d="M72.23,24.40L77.33,24.40L74.78,19.90Z" fill="#2a72e0"/>
<path d="M78.12,24.40L83.22,24.40L80.67,19.90Z" fill="#2a72e0"/>
<path d="M84.02,24.40L89.11,24.40L86.56,19.90Z" fill="#2a72e0"/>
<path d="M89.91,24.40L95.01,24.40L92.46,19.90Z" fill="#2a72e0"/>
<path d="M95.80,24.40L100.90,24.40L98.35,19.90Z" fill="#2a72e0"/>
<path d="M101.69,25.10L106.79,25.10L104.24,20.60Z" fill="#2a72e0"/>
<path d="M107.59,27.80L112.69,27.80L110.14,23.30Z" fill="#2a72e0"/>
<path d="M113.48,31.80L118.58,31.80L116.03,27.30Z" fill="#2a72e0"/>
<path d="M119.37,39.70L124.47,39.70L121.92,35.20Z" fill="#2a72e0"/>
<path d="M125.27,54.50L130.37,54.50L127.82,50.00Z" fill="#2a72e0"/>
<path d="M131.16,73.40L136.26,73.40L133.71,68.90Z" fill="#2a72e0"/>
<path d="M137.05,97.00L142.15,97.00L139.60,92.50Z" fill="#2a72e0"/>
<path d="M142.94,121.62L148.05,121.62L145.50,117.12Z" fill="#2a72e0"/>
<path d="M148.84,145.70L153.94,145.70L151.39,141.20Z" fill="#2a72e0"/>
<path d="M154.73,163.90L159.83,163.90L157.28,159.40Z" fill="#2a72e0"/>
<path d="M160.62,175.70L165.72,175.70L163.17,171.20Z" fill="#2a72e0"/>
<path d="M166.52,183.40L171.62,183.40L169.07,178.90Z" fill="#2a72e0"/>
<path d="M172.41,187.78L177.51,187.78L174.96,183.28Z" fill="#2a72e0"/>
<path d="M178.30,189.40L183.40,189.40L180.85,184.90Z" fill="#2a72e0"/>
<path d="M184.20,190.04L189.30,190.04L186.75,185.54Z" fill="#2a72e0"/>
<path d="M190.09,190.44L195.19,190.44L192.64,185.94Z" fill="#2a72e0"/>
<path d="M195.98,190.64L201.08,190.64L198.53,186.14Z" fill="#2a72e0"/>
<path d="M201.87,190.64L206.97,190.64L204.42,186.14Z" fill="#2a72e0"/>
<path d="M207.77,190.64L212.87,190.64L210.32,186.14Z" fill="#2a72e0"/>
<path d="M213.66,190.64L218.76,190.64L216.21,186.14Z" fill="#2a72e0"/>
<path d="M219.55,190.64L224.65,190.64L222.10,186.14Z" fill="#2a72e0"/>
<path d="M225.45,190.64L230.55,190.64L228.00,186.14Z" fill="#2a72e0"/>
<path d="M231.34,190.44L236.44,190.44L233.89,185.94Z" fill="#2a72e0"/>
<path d="M237.23,190.24L242.33,190.24L239.78,185.74Z" fill="#2a72e0"/>
<path d="M243.13,189.40L248.23,189.40L245.68,184.90Z" fill="#2a72e0"/>
<path d="M249.02,187.38L254.12,187.38L251.57,182.88Z" fill="#2a72e0"/>
<path d="M254.91,182.94L260.01,182.94L257.46,178.44Z" fill="#2a72e0"/>
<path d="M260.81,175.80L265.91,175.80L263.36,171.30Z" fill="#2a72e0"/>
<path d="M266.70,165.20L271.80,165.20L269.25,160.70Z" fill="#2a72e0"/>
<path d="M272.59,144.02L277.69,144.02L275.14,139.52Z" fill="#2a72e0"/>
<path d="M278.48,120.52L283.58,120.52L281.03,116.02Z" fill="#2a72e0"/>
<path d="M284.38,96.20L289.48,96.20L286.93,91.70Z" fill="#2a72e0"/>
<path d="M290.27,73.10L295.37,73.10L292.82,68.60Z" fill="#2a72e0"/>
<path d="M296.16,52.00L301.26,52.00L298.71,47.50Z" fill="#2a72e0"/>
<path d="M302.06,39.80L307.16,39.80L304.61,35.30Z" fill="#2a72e0"/>
<path d="M307.95,32.40L313.05,32.40L310.50,27.90Z" fill="#2a72e0"/>
<path d="M313.84,27.90L318.94,27.90L316.39,23.40Z" fill="#2a72e0"/>
<path d="M319.74,25.40L324.84,25.40L322.29,20.90Z" fill="#2a72e0"/>
<path d="M325.63,24.70L330.73,24.70L328.18,20.20Z" fill="#2a72e0"/>
<path d="M331.52,24.50L336.62,24.50L334.07,20.00Z" fill="#2a72e0"/>
<path d="M337.41,24.50L342.51,24.50L339.96,20.00Z" fill="#2a72e0"/>
<path d="M343.31,24.50L348.41,24.50L345.86,20.00Z" fill="#2a72e0"/>
<path d="M349.20,24.50L354.30,24.50L351.75,20.00Z" fill="#2a72e0"/>
<path d="M355.09,24.50L360.19,24.50L357.64,20.00Z" fill="#2a72e0"/>
<path d="M360.99,24.50L366.09,24.50L363.54,20.00Z" fill="#2a72e0"/>
<path d="M366.88,24.50L371.98,24.50L369.43,20.00Z" fill="#2a72e0"/>
<path d="M372.77,24.50L377.87,24.50L375.32,20.00Z" fill="#2a72e0"/>
<path d="M378.67,24.50L383.77,24.50L381.22,20.00Z" fill="#2a72e0"/>
<path d="M384.56,24.50L389.66,24.50L387.11,20.00Z" fill="#2a72e0"/>
<path d="M390.45,24.50L395.55,24.50L393.00,20.00Z" fill="#2a72e0"/>
<path d="M396.34,24.50L401.44,24.50L398.89,20.00Z" fill="#2a72e0"/>
<path d="M402.24,24.50L407.34,24.50L404.79,20.00Z" fill="#2a72e0"/>
<path d="M408.13,24.90L413.23,24.90L410.68,20.40Z" fill="#2a72e0"/>
<path d="M414.02,25.80L419.12,25.80L416.57,21.30Z" fill="#2a72e0"/>
<path d="M419.92,27.90L425.02,27.90L422.47,23.40Z" fill="#2a72e0"/>
<path d="M425.81,30.10L430.91,30.10L428.36,25.60Z" fill="#2a72e0"/>
<path d="M431.70,38.00L436.80,38.00L434.25,33.50Z" fill="#2a72e0"/>
<path d="M437.59,48.70L442.69,48.70L440.14,44.20Z" fill="#2a72e0"/>
<path d="M443.49,68.60L448.59,68.60L446.04,64.10Z" fill="#2a72e0"/>
<path d="M449.38,92.40L454.48,92.40L451.93,87.90Z" fill="#2a72e0"/>
<path d="M455.27,117.40L460.37,117.40L457.82,112.90Z" fill="#2a72e0"/>
<path d="M461.17,140.40L466.27,140.40L463.72,135.90Z" fill="#2a72e0"/>
<path d="M467.06,160.30L472.16,160.30L469.61,155.80Z" fill="#2a72e0"/>
<path d="M472.95,173.90L478.05,173.90L475.50,169.40Z" fill="#2a72e0"/>
<path d="M478.85,182.30L483.95,182.30L481.40,177.80Z" fill="#2a72e0"/>
<path d="M484.74,187.70L489.84,187.70L487.29,183.20Z" fill="#2a72e0"/>
<path d="M490.63,189.40L495.73,189.40L493.18,184.90Z" fill="#2a72e0"/>
<path d="M496.52,189.40L501.62,189.40L499.07,184.90Z" fill="#2a72e0"/>
<path d="M502.42,188.40L507.52,188.40L504.97,183.90Z" fill="#2a72e0"/>
<path d="M508.31,184.50L513.41,184.50L510.86,180.00Z" fill="#2a72e0"/>
<path d="M514.20,176.60L519.30,176.60L516.75,172.10Z" fill="#2a72e0"/>
<path d="M520.10,164.20L525.20,164.20L522.65,159.70Z" fill="#2a72e0"/>
<path d="M525.99,146.90L531.09,146.90L528.54,142.40Z" fill="#2a72e0"/>
<path d="M531.88,124.50L536.98,124.50L534.43,120.00Z" fill="#2a72e0"/>
<path d="M537.78,99.40L542.88,99.40L540.33,94.90Z" fill="#2a72e0"/>
<path d="M543.67,74.60L548.77,74.60L546.22,70.10Z" fill="#2a72e0"/>
<path d="M549.56,55.00L554.66,55.00L552.11,50.50Z" fill="#2a72e0"/>
<path d="M555.46,40.50L560.55,40.50L558.00,36.00Z" fill="#2a72e0"/>
<path d="M561.35,32.80L566.45,32.80L563.90,28.30Z" fill="#2a72e0"/>
<path d="M567.24,27.90L572.34,27.90L569.79,23.40Z" fill="#2a72e0"/>
<path d="M573.13,25.80L578.23,25.80L575.68,21.30Z" fill="#2a72e0"/>
<path d="M579.03,24.50L584.13,24.50L581.58,20.00Z" fill="#2a72e0"/>
<path d="M584.92,24.40L590.02,24.40L587.47,19.90Z" fill="#2a72e0"/>
<path d="M590.81,24.40L595.91,24.40L593.36,19.90Z" fill="#2a72e0"/>
<path d="M596.71,24.40L601.81,24.40L599.26,19.90Z" fill="#2a72e0"/>
<path d="M602.60,24.40L607.70,24.40L605.15,19.90Z" fill="#2a72e0"/>
<path d="M608.49,24.40L613.59,24.40L611.04,19.90Z" fill="#2a72e0"/>
<path d="M614.39,24.40L619.49,24.40L616.94,19.90Z" fill="#2a72e0"/>
<path d="M620.28,24.40L625.38,24.40L622.83,19.90Z" fill="#2a72e0"/>
<path d="M626.17,24.30L631.27,24.30L628.72,19.80Z" fill="#2a72e0"/>
<polyline points="57.10,22.90 62.99,22.90 68.89,22.90 74.78,22.90 80.67,22.90 86.56,22.90 92.46,22.90 98.35,22.90 104.24,23.60 110.14,26.30 116.03,30.30 121.92,38.20 127.82,53.00 133.71,71.10 139.60,93.90 145.50,117.80 151.39,141.40 157.28,160.00 163.17,172.60 169.07,180.70 174.96,184.20 180.85,186.30 186.75,187.10 192.64,187.50 198.53,187.70 204.42,187.70 210.32,187.70 216.21,187.70 222.10,187.70 228.00,187.70 233.89,187.50 239.78,187.30 245.68,186.30 251.57,184.20 257.46,179.60 263.36,171.90 269.25,160.90 275.14,139.40 281.03,116.70 286.93,91.90 292.82,70.00 298.71,49.70 304.61,38.30 310.50,30.90 316.39,26.40 322.29,23.90 328.18,23.20 334.07,23.00 339.96,23.00 345.86,23.00 351.75,23.00 357.64,23.00 363.54,23.00 369.43,23.00 375.32,23.00 381.22,23.00 387.11,23.00 393.00,23.00 398.89,23.00 404.79,23.00 410.68,23.40 416.57,24.30 422.47,26.40 428.36,30.70 434.25,38.30 440.14,50.50 446.04,70.10 451.93,93.10 457.82,118.20 463.72,141.40 469.61,160.40 475.50,173.40 481.40,181.30 487.29,186.20 493.18,187.90 499.07,187.90 504.97,186.90 510.86,183.00 516.75,175.10 522.65,162.20 528.54,143.60 534.43,121.50 540.33,96.10 546.22,72.10 552.11,53.00 558.00,39.00 563.90,31.30 569.79,26.40 575.68,24.30 581.58,23.00 587.47,22.90 593.36,22.90 599.26,22.90 605.15,22.90 611.04,22.90 616.94,22.90 622.83,22.90 628.72,22.80" fill="none" stroke="#00f800" stroke-width="0.6" stroke-linejoin="round"/>
<path d="M54.55,21.40L59.65,21.40L57.10,25.90Z" fill="#00f800"/>
<path d="M60.44,21.40L65.54,21.40L62.99,25.90Z" fill="#00f800"/>
<path d="M66.34,21.40L71.44,21.40L68.89,25.90Z" fill="#00f800"/>
<path d="M72.23,21.40L77.33,21.40L74.78,25.90Z" fill="#00f800"/>
<path d="M78.12,21.40L83.22,21.40L80.67,25.90Z" fill="#00f800"/>
<path d="M84.02,21.40L89.11,21.40L86.56,25.90Z" fill="#00f800"/>
<path d="M89.91,21.40L95.01,21.40L92.46,25.90Z" fill="#00f800"/>
<path d="M95.80,21.40L100.90,21.40L98.35,25.90Z" fill="#00f800"/>
<path d="M101.69,22.10L106.79,22.10L104.24,26.60Z" fill="#00f800"/>
<path d="M107.59,24.80L112.69,24.80L110.14,29.30Z" fill="#00f800"/>
<path d="M113.48,28.80L118.58,28.80L116.03,33.30Z" fill="#00f800"/>
<path d="M119.37,36.70L124.47,36.70L121.92,41.20Z" fill="#00f800"/>
<path d="M125.27,51.50L130.37,51.50L127.82,56.00Z" fill="#00f800"/>
<path d="M131.16,69.60L136.26,69.60L133.71,74.10Z" fill="#00f800"/>
<path d="M137.05,92.40L142.15,92.40L139.60,96.90Z" fill="#00f800"/>
<path d="M142.94,116.30L148.05,116.30L145.50,120.80Z" fill="#00f800"/>
<path d="M148.84,139.90L153.94,139.90L151.39,144.40Z" fill="#00f800"/>
<path d="M154.73,158.50L159.83,158.50L157.28,163.00Z" fill="#00f800"/>
<path d="M160.62,171.10L165.72,171.10L163.17,175.60Z" fill="#00f800"/>
<path d="M166.52,179.20L171.62,179.20L169.07,183.70Z" fill="#00f800"/>
<path d="M172.41,182.70L177.51,182.70L174.96,187.20Z" fill="#00f800"/>
<path d="M178.30,184.80L183.40,184.80L180.85,189.30Z" fill="#00f800"/>
<path d="M184.20,185.60L189.30,185.60L186.75,190.10Z" fill="#00f800"/>
<path d="M190.09,186.00L195.19,186.00L192.64,190.50Z" fill="#00f800"/>
<path d="M195.98,186.20L201.08,186.20L198.53,190.70Z" fill="#00f800"/>
<path d="M201.87,186.20L206.97,186.20L204.42,190.70Z" fill="#00f800"/>
<path d="M207.77,186.20L212.87,186.20L210.32,190.70Z" fill="#00f800"/>
<path d="M213.66,186.20L218.76,186.20L216.21,190.70Z" fill="#00f800"/>
<path d="M219.55,186.20L224.65,186.20L222.10,190.70Z" fill="#00f800"/>
<path d="M225.45,186.20L230.55,186.20L228.00,190.70Z" fill="#00f800"/>
<path d="M231.34,186.00L236.44,186.00L233.89,190.50Z" fill="#00f800"/>
<path d="M237.23,185.80L242.33,185.80L239.78,190.30Z" fill="#00f800"/>
<path d="M243.13,184.80L248.23,184.80L245.68,189.30Z" fill="#00f800"/>
<path d="M249.02,182.70L254.12,182.70L251.57,187.20Z" fill="#00f800"/>
<path d="M254.91,178.10L260.01,178.10L257.46,182.60Z" fill="#00f800"/>
<path d="M260.81,170.40L265.91,170.40L263.36,174.90Z" fill="#00f800"/>
<path d="M266.70,159.40L271.80,159.40L269.25,163.90Z" fill="#00f800"/>
<path d="M272.59,137.90L277.69,137.90L275.14,142.40Z" fill="#00f800"/>
<path d="M278.48,115.20L283.58,115.20L281.03,119.70Z" fill="#00f800"/>
<path d="M284.38,90.40L289.48,90.40L286.93,94.90Z" fill="#00f800"/>
<path d="M290.27,68.50L295.37,68.50L292.82,73.00Z" fill="#00f800"/>
<path d="M296.16,48.20L301.26,48.20L298.71,52.70Z" fill="#00f800"/>
<path d="M302.06,36.80L307.16,36.80L304.61,41.30Z" fill="#00f800"/>
<path d="M307.95,29.40L313.05,29.40L310.50,33.90Z" fill="#00f800"/>
<path d="M313.84,24.90L318.94,24.90L316.39,29.40Z" fill="#00f800"/>
<path d="M319.74,22.40L324.84,22.40L322.29,26.90Z" fill="#00f800"/>
<path d="M325.63,21.70L330.73,21.70L328.18,26.20Z" fill="#00f800"/>
<path d="M331.52,21.50L336.62,21.50L334.07,26.00Z" fill="#00f800"/>
<path d="M337.41,21.50L342.51,21.50L339.96,26.00Z" fill="#00f800"/>
<path d="M343.31,21.50L348.41,21.50L345.86,26.00Z" fill="#00f800"/>
<path d="M349.20,21.50L354.30,21.50L351.75,26.00Z" fill="#00f800"/>
<path d="M355.09,21.50L360.19,21.50L357.64,26.00Z" fill="#00f800"/>
<path d="M360.99,21.50L366.09,21.50L363.54,26.00Z" fill="#00f800"/>
<path d="M366.88,21.50L371.98,21.50L369.43,26.00Z" fill="#00f800"/>
<path d="M372.77,21.50L377.87,21.50L375.32,26.00Z" fill="#00f800"/>
<path d="M378.67,21.50L383.77,21.50L381.22,26.00Z" fill="#00f800"/>
<path d="M384.56,21.50L389.66,21.50L387.11,26.00Z" fill="#00f800"/>
<path d="M390.45,21.50L395.55,21.50L393.00,26.00Z" fill="#00f800"/>
<path d="M396.34,21.50L401.44,21.50L398.89,26.00Z" fill="#00f800"/>
<path d="M402.24,21.50L407.34,21.50L404.79,26.00Z" fill="#00f800"/>
<path d="M408.13,21.90L413.23,21.90L410.68,26.40Z" fill="#00f800"/>
<path d="M414.02,22.80L419.12,22.80L416.57,27.30Z" fill="#00f800"/>
<path d="M419.92,24.90L425.02,24.90L422.47,29.40Z" fill="#00f800"/>
<path d="M425.81,29.20L430.91,29.20L428.36,33.70Z" fill="#00f800"/>
<path d="M431.70,36.80L436.80,36.80L434.25,41.30Z" fill="#00f800"/>
<path d="M437.59,49.00L442.69,49.00L440.14,53.50Z" fill="#00f800"/>
<path d="M443.49,68.60L448.59,68.60L446.04,73.10Z" fill="#00f800"/>
<path d="M449.38,91.60L454.48,91.60L451.93,96.10Z" fill="#00f800"/>
<path d="M455.27,116.70L460.37,116.70L457.82,121.20Z" fill="#00f800"/>
<path d="M461.17,139.90L466.27,139.90L463.72,144.40Z" fill="#00f800"/>
<path d="M467.06,158.90L472.16,158.90L469.61,163.40Z" fill="#00f800"/>
<path d="M472.95,171.90L478.05,171.90L475.50,176.40Z" fill="#00f800"/>
<path d="M478.85,179.80L483.95,179.80L481.40,184.30Z" fill="#00f800"/>
<path d="M484.74,184.70L489.84,184.70L487.29,189.20Z" fill="#00f800"/>
<path d="M490.63,186.40L495.73,186.40L493.18,190.90Z" fill="#00f800"/>
<path d="M496.52,186.40L501.62,186.40L499.07,190.90Z" fill="#00f800"/>
<path d="M502.42,185.40L507.52,185.40L504.97,189.90Z" fill="#00f800"/>
<path d="M508.31,181.50L513.41,181.50L510.86,186.00Z" fill="#00f800"/>
<path d="M514.20,173.60L519.30,173.60L516.75,178.10Z" fill="#00f800"/>
<path d="M520.10,160.70L525.20,160.70L522.65,165.20Z" fill="#00f800"/>
<path d="M525.99,142.10L531.09,142.10L528.54,146.60Z" fill="#00f800"/>
<path d="M531.88,120.00L536.98,120.00L534.43,124.50Z" fill="#00f800"/>
<path d="M537.78,94.60L542.88,94.60L540.33,99.10Z" fill="#00f800"/>
<path d="M543.67,70.60L548.77,70.60L546.22,75.10Z" fill="#00f800"/>
<path d="M549.56,51.50L554.66,51.50L552.11,56.00Z" fill="#00f800"/>
<path d="M555.46,37.50L560.55,37.50L558.00,42.00Z" fill="#00f800"/>
<path d="M561.35,29.80L566.45,29.80L563.90,34.30Z" fill="#00f800"/>
<path d="M567.24,24.90L572.34,24.90L569.79,29.40Z" fill="#00f800"/>
<path d="M573.13,22.80L578.23,22.80L575.68,27.30Z" fill="#00f800"/>
<path d="M579.03,21.50L584.13,21.50L581.58,26.00Z" fill="#00f800"/>
<path d="M584.92,21.40L590.02,21.40L587.47,25.90Z" fill="#00f800"/>
<path d="M590.81,21.40L595.91,21.40L593.36,25.90Z" fill="#00f800"/>
<path d="M596.71,21.40L601.81,21.40L599.26,25.90Z" fill="#00f800"/>
<path d="M602.60,21.40L607.70,21.40L605.15,25.90Z" fill="#00f800"/>
<path d="M608.49,21.40L613.59,21.40L611.04,25.90Z" fill="#00f800"/>
<path d="M614.39,21.40L619.49,21.40L616.94,25.90Z" fill="#00f800"/>
<path d="M620.28,21.40L625.38,21.40L622.83,25.90Z" fill="#00f800"/>
<path d="M626.17,21.30L631.27,21.30L628.72,25.80Z" fill="#00f800"/>
<path d="M51.5,217.2L51.5,5.25L640.6,5.25L640.6,217.2Z" fill="none" stroke="#2a2a2a" stroke-width="1"/>
<line x1="45.9" y1="22.91" x2="51.5" y2="22.91" stroke="#2a2a2a" stroke-width="1"/>
<text x="41.6" y="27.01" font-size="12.4" text-anchor="end" fill="#111">0</text>
<line x1="48.7" y1="40.58" x2="51.5" y2="40.58" stroke="#2a2a2a" stroke-width="1"/>
<line x1="45.9" y1="58.24" x2="51.5" y2="58.24" stroke="#2a2a2a" stroke-width="1"/>
<text x="41.6" y="62.34" font-size="12.4" text-anchor="end" fill="#111">500</text>
<line x1="48.7" y1="75.90" x2="51.5" y2="75.90" stroke="#2a2a2a" stroke-width="1"/>
<line x1="45.9" y1="93.56" x2="51.5" y2="93.56" stroke="#2a2a2a" stroke-width="1"/>
<text x="41.6" y="97.66" font-size="12.4" text-anchor="end" fill="#111">1000</text>
<line x1="48.7" y1="111.22" x2="51.5" y2="111.22" stroke="#2a2a2a" stroke-width="1"/>
<line x1="45.9" y1="128.89" x2="51.5" y2="128.89" stroke="#2a2a2a" stroke-width="1"/>
<text x="41.6" y="132.99" font-size="12.4" text-anchor="end" fill="#111">1500</text>
<line x1="48.7" y1="146.55" x2="51.5" y2="146.55" stroke="#2a2a2a" stroke-width="1"/>
<line x1="45.9" y1="164.21" x2="51.5" y2="164.21" stroke="#2a2a2a" stroke-width="1"/>
<text x="41.6" y="168.31" font-size="12.4" text-anchor="end" fill="#111">2000</text>
<line x1="48.7" y1="181.88" x2="51.5" y2="181.88" stroke="#2a2a2a" stroke-width="1"/>
<line x1="45.9" y1="199.54" x2="51.5" y2="199.54" stroke="#2a2a2a" stroke-width="1"/>
<text x="41.6" y="203.64" font-size="12.4" text-anchor="end" fill="#111">2500</text>
<line x1="640.6" y1="217.20" x2="646.2" y2="217.20" stroke="#2a2a2a" stroke-width="1"/>
<text x="650.6" y="221.30" font-size="12.4" fill="#111">0</text>
<line x1="640.6" y1="199.54" x2="643.4" y2="199.54" stroke="#2a2a2a" stroke-width="1"/>
<line x1="640.6" y1="181.88" x2="646.2" y2="181.88" stroke="#2a2a2a" stroke-width="1"/>
<text x="650.6" y="185.97" font-size="12.4" fill="#111">50</text>
<line x1="640.6" y1="164.21" x2="643.4" y2="164.21" stroke="#2a2a2a" stroke-width="1"/>
<line x1="640.6" y1="146.55" x2="646.2" y2="146.55" stroke="#2a2a2a" stroke-width="1"/>
<text x="650.6" y="150.65" font-size="12.4" fill="#111">100</text>
<line x1="640.6" y1="128.89" x2="643.4" y2="128.89" stroke="#2a2a2a" stroke-width="1"/>
<line x1="640.6" y1="111.22" x2="646.2" y2="111.22" stroke="#2a2a2a" stroke-width="1"/>
<text x="650.6" y="115.32" font-size="12.4" fill="#111">150</text>
<line x1="640.6" y1="93.56" x2="643.4" y2="93.56" stroke="#2a2a2a" stroke-width="1"/>
<line x1="640.6" y1="75.90" x2="646.2" y2="75.90" stroke="#2a2a2a" stroke-width="1"/>
<text x="650.6" y="80.00" font-size="12.4" fill="#111">200</text>
<line x1="640.6" y1="58.24" x2="643.4" y2="58.24" stroke="#2a2a2a" stroke-width="1"/>
<line x1="640.6" y1="40.57" x2="646.2" y2="40.57" stroke="#2a2a2a" stroke-width="1"/>
<text x="650.6" y="44.67" font-size="12.4" fill="#111">250</text>
<line x1="640.6" y1="22.91" x2="643.4" y2="22.91" stroke="#2a2a2a" stroke-width="1"/>
<line x1="640.6" y1="5.25" x2="646.2" y2="5.25" stroke="#2a2a2a" stroke-width="1"/>
<text x="650.6" y="9.35" font-size="12.4" fill="#111">300</text>
<line x1="68.89" y1="217.2" x2="68.89" y2="220.0" stroke="#2a2a2a" stroke-width="1"/>
<line x1="86.56" y1="217.2" x2="86.56" y2="222.79999999999998" stroke="#2a2a2a" stroke-width="1"/>
<text transform="translate(89.16,235.20) rotate(-45)" font-size="10" text-anchor="middle" fill="#111">E6</text>
<line x1="104.24" y1="217.2" x2="104.24" y2="220.0" stroke="#2a2a2a" stroke-width="1"/>
<line x1="121.92" y1="217.2" x2="121.92" y2="222.79999999999998" stroke="#2a2a2a" stroke-width="1"/>
<text transform="translate(124.52,235.20) rotate(-45)" font-size="10" text-anchor="middle" fill="#111">E12</text>
<line x1="139.60" y1="217.2" x2="139.60" y2="220.0" stroke="#2a2a2a" stroke-width="1"/>
<line x1="157.28" y1="217.2" x2="157.28" y2="222.79999999999998" stroke="#2a2a2a" stroke-width="1"/>
<text transform="translate(159.88,235.20) rotate(-45)" font-size="10" text-anchor="middle" fill="#111">E18</text>
<line x1="174.96" y1="217.2" x2="174.96" y2="220.0" stroke="#2a2a2a" stroke-width="1"/>
<line x1="192.64" y1="217.2" x2="192.64" y2="222.79999999999998" stroke="#2a2a2a" stroke-width="1"/>
<text transform="translate(195.24,235.20) rotate(-45)" font-size="10" text-anchor="middle" fill="#111">E24</text>
<line x1="210.32" y1="217.2" x2="210.32" y2="220.0" stroke="#2a2a2a" stroke-width="1"/>
<line x1="228.00" y1="217.2" x2="228.00" y2="222.79999999999998" stroke="#2a2a2a" stroke-width="1"/>
<text transform="translate(230.60,235.20) rotate(-45)" font-size="10" text-anchor="middle" fill="#111">E30</text>
<line x1="245.68" y1="217.2" x2="245.68" y2="220.0" stroke="#2a2a2a" stroke-width="1"/>
<line x1="263.36" y1="217.2" x2="263.36" y2="222.79999999999998" stroke="#2a2a2a" stroke-width="1"/>
<text transform="translate(265.96,235.20) rotate(-45)" font-size="10" text-anchor="middle" fill="#111">E36</text>
<line x1="281.03" y1="217.2" x2="281.03" y2="220.0" stroke="#2a2a2a" stroke-width="1"/>
<line x1="298.71" y1="217.2" x2="298.71" y2="222.79999999999998" stroke="#2a2a2a" stroke-width="1"/>
<text transform="translate(301.31,235.20) rotate(-45)" font-size="10" text-anchor="middle" fill="#111">E42</text>
<line x1="316.39" y1="217.2" x2="316.39" y2="220.0" stroke="#2a2a2a" stroke-width="1"/>
<line x1="334.07" y1="217.2" x2="334.07" y2="222.79999999999998" stroke="#2a2a2a" stroke-width="1"/>
<text transform="translate(336.67,235.20) rotate(-45)" font-size="10" text-anchor="middle" fill="#111">E48</text>
<line x1="351.75" y1="217.2" x2="351.75" y2="220.0" stroke="#2a2a2a" stroke-width="1"/>
<line x1="369.43" y1="217.2" x2="369.43" y2="222.79999999999998" stroke="#2a2a2a" stroke-width="1"/>
<text transform="translate(372.03,235.20) rotate(-45)" font-size="10" text-anchor="middle" fill="#111">E54</text>
<line x1="387.11" y1="217.2" x2="387.11" y2="220.0" stroke="#2a2a2a" stroke-width="1"/>
<line x1="404.79" y1="217.2" x2="404.79" y2="222.79999999999998" stroke="#2a2a2a" stroke-width="1"/>
<text transform="translate(407.39,235.20) rotate(-45)" font-size="10" text-anchor="middle" fill="#111">S6</text>
<line x1="422.47" y1="217.2" x2="422.47" y2="220.0" stroke="#2a2a2a" stroke-width="1"/>
<line x1="440.14" y1="217.2" x2="440.14" y2="222.79999999999998" stroke="#2a2a2a" stroke-width="1"/>
<text transform="translate(442.75,235.20) rotate(-45)" font-size="10" text-anchor="middle" fill="#111">S12</text>
<line x1="457.82" y1="217.2" x2="457.82" y2="220.0" stroke="#2a2a2a" stroke-width="1"/>
<line x1="475.50" y1="217.2" x2="475.50" y2="222.79999999999998" stroke="#2a2a2a" stroke-width="1"/>
<text transform="translate(478.10,235.20) rotate(-45)" font-size="10" text-anchor="middle" fill="#111">S18</text>
<line x1="493.18" y1="217.2" x2="493.18" y2="220.0" stroke="#2a2a2a" stroke-width="1"/>
<line x1="510.86" y1="217.2" x2="510.86" y2="222.79999999999998" stroke="#2a2a2a" stroke-width="1"/>
<text transform="translate(513.46,235.20) rotate(-45)" font-size="10" text-anchor="middle" fill="#111">S24</text>
<line x1="528.54" y1="217.2" x2="528.54" y2="220.0" stroke="#2a2a2a" stroke-width="1"/>
<line x1="546.22" y1="217.2" x2="546.22" y2="222.79999999999998" stroke="#2a2a2a" stroke-width="1"/>
<text transform="translate(548.82,235.20) rotate(-45)" font-size="10" text-anchor="middle" fill="#111">S30</text>
<line x1="563.90" y1="217.2" x2="563.90" y2="220.0" stroke="#2a2a2a" stroke-width="1"/>
<line x1="581.58" y1="217.2" x2="581.58" y2="222.79999999999998" stroke="#2a2a2a" stroke-width="1"/>
<text transform="translate(584.18,235.20) rotate(-45)" font-size="10" text-anchor="middle" fill="#111">S36</text>
<line x1="599.26" y1="217.2" x2="599.26" y2="220.0" stroke="#2a2a2a" stroke-width="1"/>
<line x1="616.94" y1="217.2" x2="616.94" y2="222.79999999999998" stroke="#2a2a2a" stroke-width="1"/>
<text transform="translate(619.54,235.20) rotate(-45)" font-size="10" text-anchor="middle" fill="#111">S42</text>
<line x1="634.61" y1="217.2" x2="634.61" y2="220.0" stroke="#2a2a2a" stroke-width="1"/>
<text x="346" y="253.7" font-size="12.4" text-anchor="middle" fill="#111">Observation point number</text>
<text transform="translate(9.8,111.5) rotate(-90)" font-size="12.5" text-anchor="middle" fill="#111">Subsidence value/mm</text>
<text transform="translate(683.9,111.3) rotate(-90)" font-size="12.4" text-anchor="middle" fill="#111">Absolute error/mm</text>
<line x1="138" y1="16.5" x2="159.6" y2="16.5" stroke="#484848" stroke-width="0.6"/>
<rect x="147.30" y="14.70" width="3.6" height="3.6" fill="#404040"/>
<text x="161.8" y="19.7" font-size="9.7" fill="#111">Measured value</text>
<line x1="138" y1="28.5" x2="159.6" y2="28.5" stroke="#f03030" stroke-width="0.6"/>
<circle cx="149.10" cy="28.50" r="2.15" fill="#f03030"/>
<text x="161.8" y="31.7" font-size="9.7" fill="#111">DE fitting value</text>
<line x1="138" y1="40.5" x2="159.6" y2="40.5" stroke="#2a72e0" stroke-width="0.6"/>
<path d="M146.55,42.00L151.65,42.00L149.10,37.50Z" fill="#2a72e0"/>
<text x="161.8" y="43.7" font-size="9.7" fill="#111">Huber-DE fitting value</text>
<line x1="138" y1="52.5" x2="159.6" y2="52.5" stroke="#00f800" stroke-width="0.6"/>
<path d="M146.55,51.00L151.65,51.00L149.10,55.50Z" fill="#00f800"/>
<text x="161.8" y="55.7" font-size="9.7" fill="#111">RANSAC-DE fitting value</text>
<rect x="147" y="62.3" width="20.9" height="9.5" fill="rgba(255,0,0,0.39)"/>
<text x="171.3" y="70.25" font-size="9.7" fill="#111">DE absolute error</text>
<rect x="147" y="74.0" width="20.9" height="9.5" fill="rgba(0,0,255,0.39)"/>
<text x="171.3" y="81.95" font-size="9.7" fill="#111">Huber-DE absolute error</text>
<rect x="147" y="85.9" width="20.9" height="9.5" fill="rgba(0,255,0,0.39)"/>
<text x="171.3" y="93.85" font-size="9.7" fill="#111">RANSAC-DE absolute error</text>
</svg></body></html>
